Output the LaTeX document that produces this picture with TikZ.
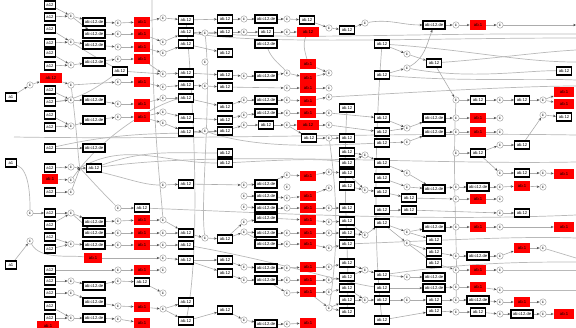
\documentclass[tikz,border=0pt]{standalone}
\usepackage{fontspec}
\setmainfont{Liberation Sans}
\usetikzlibrary{arrows.meta,backgrounds}
\newcommand\chn[1]{\foreach \n [count=\i, remember=\n as \lastn] in {#1}{\ifnum\i>1 \draw[ed] (\lastn) -- (\n);\fi}}
\begin{document}
\begin{tikzpicture}[x=0.5pt,y=-0.5pt,
  tf/.style={font={\fontsize{2.1}{2.3}\selectfont}},
  bx/.style={tf,draw=black,line width=0.65pt,fill=white,minimum height=4pt,inner sep=0pt},
  sbx/.style={bx,minimum width=5.5pt},
  mbx/.style={bx,minimum width=7.5pt},
  wbx/.style={bx,minimum width=11pt},
  rbx/.style={tf,fill=red,minimum width=8pt,minimum height=4.6pt,inner sep=0pt},
  cir/.style={tf,circle,draw=gray!70,fill=white,line width=0.25pt,minimum size=3.2pt,inner sep=0pt},
  ed/.style={draw=gray!65,line width=0.3pt,-{Stealth[length=1.4pt,width=1.2pt,color=black!70]}},
  lg/.style={draw=gray!55,line width=0.35pt}]
\useasboundingbox (0,0) rectangle (576,327);
% ---------- nodes ----------
\foreach \y in {5,17,29,43,53,66,90,102,115,127,148,168,192,213,225,237,249,270,281,293,306,318} \node[sbx] (A\y) at (50,\y) {a12};
\node[rbx,minimum width=11pt] (A78) at (51,78) {ab.12};
\node[rbx] (A179) at (50,179) {ab.1};
\node[rbx,minimum width=11pt] (A326) at (48,326) {ab.1};
\node[sbx] (lf97) at (11,97) {a1};
\node[sbx] (lf163) at (11,163) {a1};
\node[sbx] (lf265) at (11,265) {a1};
\foreach \y in {85,213,241} \node[cir] (Z\y) at (30,\y) {c};
\foreach \y in {16,42,65,85,100,126,167,180,192,213,244,281,293,318} \node[cir] (B\y) at (71,\y) {c};
\foreach \y in {22,34,45,62,100,120,148,222,233,245,286,302,318} \node[wbx] (C\y) at (94,\y) {ab:c12.de};
\node[mbx] (C168) at (94,168) {ab.12};
\node[rbx,minimum width=9pt] (C258) at (93,258) {ab.1};
\node[mbx] (D71) at (120,71) {ab.12};
\foreach \y in {23,34,47,59,82,104,117,208,221,233,245,270,281,306,319} \node[cir] (D\y) at (118,\y) {c};
\foreach \y in {22,34,47,59,82,104,117,220,233,245,270,307,323} \node[rbx] (E\y) at (142,\y) {ab.1};
\node[mbx] (E208) at (142,208) {ab.12};
\node[mbx] (E282) at (142,282) {ab.12};
\foreach \y in {18,42,53,74,87,98,112,123,185,220,233,245,258,270,293,309} \node[cir] (F\y) at (163,\y) {c};
\foreach \y in {20,32,44,73,85,98,118,132,184,233,245,260,302,321} \node[mbx] (G\y) at (186,\y) {ab.12};
\foreach \y in {33,62,86,131,238} \node[cir] (H\y) at (205,\y) {c};
\foreach \y in {19,32,53,75,87,107,120,131,153,163,239,260,273,310} \node[mbx] (I\y) at (225,\y) {ab.12};
\foreach \y in {19,32,76,100,115,125,185,196,207,222,232,267,280,320} \node[cir] (J\y) at (244,\y) {c};
\foreach \y in {19,44,76,100,113,184,196,208,218,233,244,268,280,324} \node[wbx] (K\y) at (266,\y) {ab:c12.de};
\node[mbx] (K32) at (266,32) {ab.12};
\node[mbx] (K125) at (266,125) {ab.12};
\foreach \y in {19,32,73,88,100,113,125,175,187,198,208,233,244,268,280,293,324} \node[cir] (L\y) at (287,\y) {c};
\foreach \y in {64,78,88,101,113,176,196,208,220,233,244,267,280,292,323} \node[rbx] (M\y) at (308,\y) {ab.1};
\node[rbx,minimum width=11pt] (M32) at (308,32) {ab.12};
\node[rbx,minimum width=11pt] (M125) at (308,125) {ab.12};
\node[mbx] (M20) at (307,20) {ab.12};
\node[mbx] (M138) at (309,138) {ab.12};
\foreach \y in {28,73,88,97,113,125,138,172,188,208,222,233,248,267,280,292,308} \node[cir] (N\y) at (329,\y) {c};
\foreach \y in {30,108,138,152,163,173,186,208,221,233,244,263,277,288,300,312} \node[mbx] (O\y) at (347,\y) {ab.12};
\foreach \y in {23,155,190,235,270,300} \node[cir] (P\y) at (365,\y) {c};
\foreach \y in {44,75,118,132,143,163,178,192,210,223,275,288,300,320} \node[mbx] (Q\y) at (382,\y) {ab.12};
\foreach \y in {54,68,128,142,173,187,232,243,277,300} \node[cir] (R\y) at (407,\y) {c};
\foreach \y in {63,240,252,263,300,311} \node[mbx] (S\y) at (434,\y) {ab.12};
\foreach \y in {25,118,132,189,227,277,288} \node[wbx] (S\y) at (434,\y) {ab:c12.de};
\node[mbx] (S198) at (409,198) {ab.12};
\node[mbx] (S210) at (409,210) {ab.12};
\foreach \y in {25,100,118,132,153,187,199,227,256,270,287,300,312} \node[cir] (T\y) at (456,\y) {c};
\foreach \y in {25,118,132,199,227,270,287} \node[rbx] (U\y) at (478,\y) {ab.1};
\foreach \y in {100,153,312} \node[mbx] (U\y) at (478,\y) {ab.12};
\foreach \y in {187,256,300} \node[wbx] (U\y) at (478,\y) {ab:c12.de};
\foreach \y in {25,100,118,132,145,173,187,199,213,227,256,270,290,302,314} \node[cir] (V\y) at (500,\y) {c};
\foreach \y in {100,145,173,213} \node[mbx] (W\y) at (522,\y) {ab.12};
\foreach \y in {186,248,302} \node[rbx] (W\y) at (522,\y) {ab.1};
\node[wbx] (W314) at (522,314) {ab:c12.de};
\foreach \y in {100,115,173,187,248,302,314} \node[cir] (X\y) at (543,\y) {c};
\foreach \y in {71,117} \node[mbx] (Y\y) at (564,\y) {ab.12};
\foreach \y in {92,104,174,227,314} \node[rbx,minimum width=10pt] (Y\y) at (564,\y) {ab.1};
\foreach \y in {25,34,38,50,62,80,86,135,162,215,238,258,262,270,290} \coordinate (r\y) at (576,\y);
\coordinate (l137) at (14,137);
\coordinate (t152) at (152,0);
\coordinate (hub1) at (80,168);
% ---------- connectors ----------
\begin{scope}[on background layer]
% long curves
\draw[lg] (H33) .. controls (300,40) and (400,33) .. (r34);
\draw[lg] (G32) .. controls (260,45) and (420,38) .. (r38);
\draw[lg] (S63) .. controls (500,58) and (540,52) .. (r50);
\draw[lg] (Q44) .. controls (470,50) and (520,62) .. (r62);
\draw[lg] (Q75) .. controls (460,82) and (530,78) .. (r80);
\draw[lg] (N97) .. controls (420,92) and (520,86) .. (r86);
\draw[lg] (R68) .. controls (470,80) and (530,70) .. (Y71);
\draw[lg] (l137) .. controls (200,140) and (400,132) .. (r135);
\draw[lg] (C168) .. controls (220,150) and (420,165) .. (r162);
\draw[lg] (C168) to[out=20,in=180] (I153);
\draw[lg] (hub1) to[out=30,in=180] (I163);
\draw[lg] (hub1) .. controls (120,120) and (170,100) .. (G98);
\draw[lg] (A148) .. controls (130,130) and (170,135) .. (I131);
\draw[lg] (H131) .. controls (260,150) and (330,145) .. (Q143);
\draw[lg] (I163) .. controls (280,160) and (320,158) .. (O163);
\draw[lg] (E208) .. controls (250,212) and (420,222) .. (r215);
\draw[lg] (G245) .. controls (280,262) and (340,282) .. (Q288);
\draw[lg] (O244) .. controls (450,240) and (520,236) .. (r238);
\draw[lg] (Q275) .. controls (470,262) and (530,262) .. (r262);
\draw[lg] (X248) -- (r258);
\draw[lg] (V270) -- (r270);
\draw[lg] (V290) -- (r290);
\draw[lg] (t152) .. controls (152,120) and (160,180) .. (F220);
\draw[lg] (H33) .. controls (212,100) and (200,200) .. (H238);
\draw[lg] (G20) .. controls (195,120) and (200,250) .. (G321);
\draw[lg] (N138) .. controls (338,200) and (338,250) .. (N308);
\draw[lg] (O108) .. controls (342,200) and (350,260) .. (O312);
\draw[lg] (T100) .. controls (452,180) and (458,250) .. (T300);
\draw[lg] (B85) .. controls (78,140) and (78,160) .. (hub1);
\draw[lg] (Q44) .. controls (374,150) and (374,250) .. (Q320);
\draw[lg] (K44) .. controls (272,60) and (282,66) .. (L73);
\draw[lg] (B42) .. controls (100,60) and (110,65) .. (D71);
\draw[lg] (D71) .. controls (100,85) and (80,100) .. (A102);
\draw[lg] (M32) .. controls (302,45) and (306,55) .. (M64);
\draw[lg] (lf163) .. controls (30,170) and (30,200) .. (Z213);
\draw[lg] (Z241) .. controls (40,260) and (70,255) .. (C258);
\draw[lg] (hub1) .. controls (100,190) and (110,200) .. (D208);
\draw[lg] (hub1) .. controls (120,175) and (140,185) .. (F185);
% row chains, top
\chn{A5,B16} \chn{A17,B16,C22,D23,E22,F18,G20,I19,J19,K19,L19,M20}
\chn{A29,B42} \chn{A43,B42,C45,D47,E47,F53,G44,I53}
\chn{B16,C34,D34,E34,F42,G32,H33,I32,J32,K32,L32,M32}
\chn{A53,B65} \chn{A66,B65,C62,D59,E59,F74,G73,I75,J76,K76,L73,M78,N73}
\chn{Z85,A78,B85,D82,E82,F87,G85,H86,I87,L88,M88,N88}
\chn{A90,B100} \chn{A102,B100,C100,D104,E104,F98,G98,I107,J100,K100,L100,M101,N97}
\chn{D71,F74} \chn{M64,N73} \chn{M20,N28,O30,P23}
\draw[ed] (P23) to[out=10,in=180] (S25);
\chn{S25,T25,U25,V25,r25}
\chn{Q44,R54,S63,T100,U100,V100,W100,X100,Y92} \chn{X100,Y104} \chn{Q75,R68}
\draw[ed] (R68) to[out=30,in=-110] (S25);
% middle
\chn{A115,B126} \chn{A127,B126,C120,D117,E117,F112,G118,I120,J115,K113,L113,M113,N113,Q118}
\chn{E117,F123,G132,H131,I131,J125,K125,L125,M125,N125,Q132}
\chn{L125,M138,N138,O138}
\chn{A148,C148}
\chn{A168,B167,hub1} \chn{A179,B180,hub1} \chn{A192,B192,hub1} \chn{hub1,C168}
\chn{D208,E208}
\chn{F185,G184,J185,K184,L175,M176,N172,O173}
\chn{J196,K196,L198,M196,N188}
\chn{J207,K208,L208,M208,N208,O208}
\chn{K218,M220,N222,O221}
\chn{O152,P155} \chn{O163,P155,Q163} \chn{O186,P190} \chn{O173,P190,Q192}
\chn{Q118,R128,S118,T118,U118,V118} \chn{Q132,R128}
\chn{Q143,R142,S132,T132,U132,V132}
\chn{T153,U153,V145,W145,X115,Y117} \chn{U153,V173,W173,X173,Y174}
\chn{Q163,R173,S189} \chn{Q178,R187,S189,T187,U187,V187,W186,X187}
\chn{S198,T199,U199,V199} \chn{Q192,S198} \chn{Q210,S210,V213,W213}
\chn{lf97,Z85}
% bottom
\chn{Z213,A213,B213,C222,D221,E220,F220,G233} \chn{A225,B213}
\chn{A237,B244} \chn{A249,B244,C245,D245,E245,F245,G245}
\chn{B213,C233,D233,E233,F233,G233}
\chn{C258,F258,G260}
\chn{A270,D270,E270,F270}
\chn{A281,B281,C286,D281,E282,F293}
\chn{A293,B293,C302,D306,E307,F309,G302}
\chn{A306,B318} \chn{A318,B318,C318,D319,E323}
\chn{lf265,Z241}
\chn{G233,H238,I239,J232,K233,L233,M233,N233,O233}
\chn{G260,I260,J267,K268,L268,M267,N267,O263}
\chn{G260,I273,J280,K280,L280,M280,N280,O277}
\chn{F309,G321,I310,J320,K324,L324,M323}
\chn{I239,J222,K218}
\chn{J232,K244,L244,M244,N248,O244}
\chn{K280,L293,M292,N292,O288}
\chn{M292,N308,O300} \chn{N308,O312}
\chn{O221,P235} \chn{O233,P235,Q223} \chn{O263,P270} \chn{O277,P270,Q275} \chn{O288,P300} \chn{O300,P300,Q300}
\chn{Q223,R232,S227,T227,U227,V227,Y227}
\chn{R232,S240} \chn{Q223,R243,S252,T256,U256,V256,W248,X248}
\chn{R243,S263,T270,U270,V270}
\chn{Q275,R277,S277} \chn{Q288,S288,T287,U287,V290}
\chn{Q300,R300,S300,T300,U300,V302,W302,X302}
\chn{Q320,S311,T312,U312,V314,W314,X314,Y314}
\end{scope}
\end{tikzpicture}
\end{document}
